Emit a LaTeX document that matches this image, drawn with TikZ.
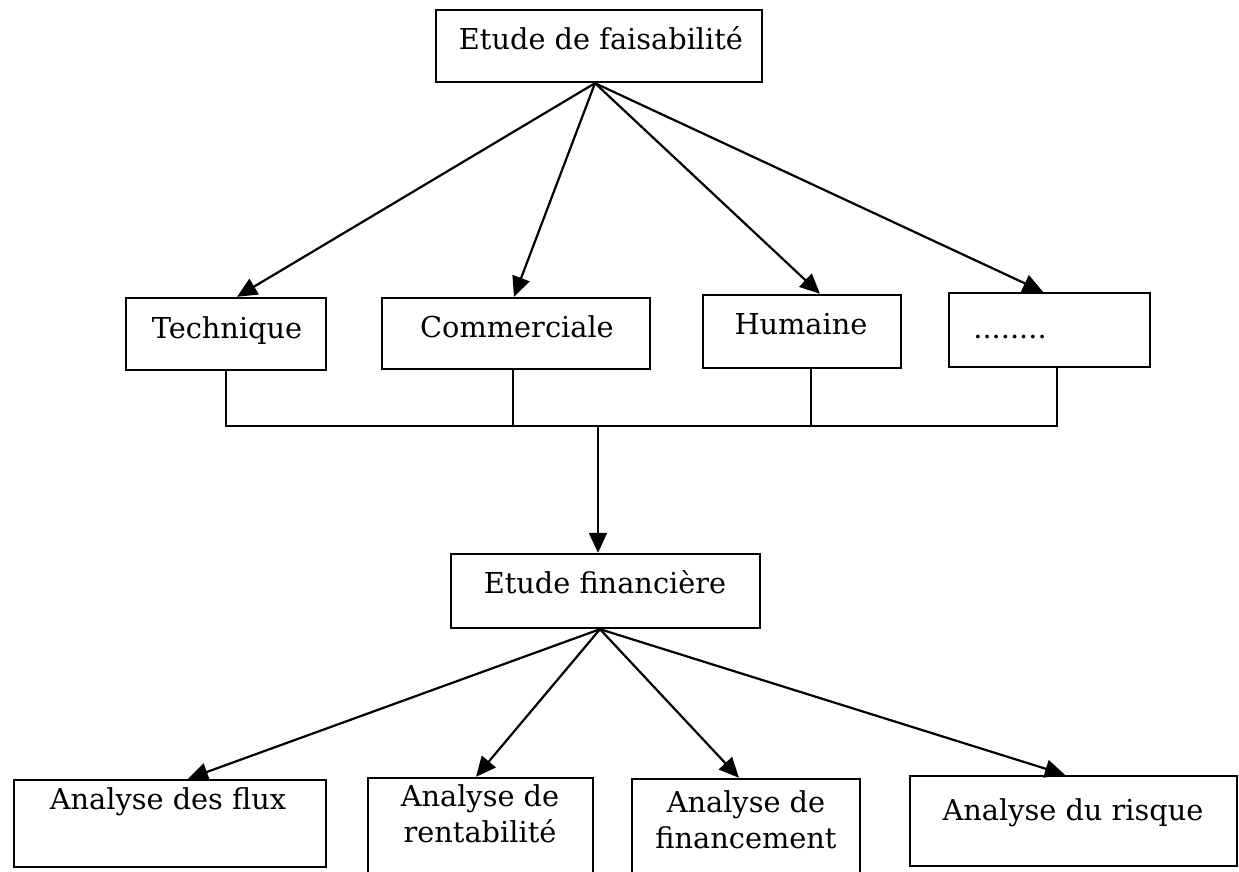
\documentclass[tikz,border=0pt]{standalone}
\usepackage{fontspec}
\setmainfont{DejaVu Serif}
\usetikzlibrary{arrows.meta}
\begin{document}
\begin{tikzpicture}[x=0.5pt,y=-0.5pt,
  box/.style={draw, line width=1.2pt, rectangle, inner sep=0pt},
  lbl/.style={anchor=base, inner sep=0pt, font=\fontsize{14.4}{18}\selectfont},
  lbltop/.style={anchor=north, inner sep=0pt, align=center, font=\fontsize{14.4}{18}\selectfont},
  link/.style={line width=1.1pt},
  arr/.style={link, -{Triangle[length=10pt,width=9pt]}}]
\useasboundingbox (0,0) rectangle (1239,872);
\clip (0,0) rectangle (1239,872);
% boxes
\node[box, minimum width=163pt, minimum height=36pt] (fais) at (599,46) {};
\node[box, minimum width=100pt, minimum height=36pt] (tech) at (226,334) {};
\node[box, minimum width=134pt, minimum height=35.5pt] (comm) at (516,333.5) {};
\node[box, minimum width=99pt, minimum height=36.5pt] (hum) at (802,331.5) {};
\node[box, minimum width=100.5pt, minimum height=37pt] (dots) at (1049.5,330) {};
\node[box, minimum width=154.5pt, minimum height=37pt] (fin) at (605.5,591) {};
\node[box, minimum width=156pt, minimum height=43.5pt] (flux) at (170,823.5) {};
\node[box, minimum width=112.5pt, minimum height=61pt] (rent) at (480.5,839) {};
\node[box, minimum width=114pt, minimum height=60.5pt] (finc) at (746,839.5) {};
\node[box, minimum width=163.5pt, minimum height=45pt] (risk) at (1073.5,821) {};
% texts
\node[lbl] (faisT) at (601,50) {Etude de faisabilité};
\node[lbl] (techT) at (227,338) {Technique};
\node[lbl] (commT) at (517,337) {Commerciale};
\node[lbl] (humT) at (801,335) {Humaine};
\node[lbl, anchor=base west] (dotsT) at (973,338) {........};
\node[lbl] (finT) at (605,593) {Etude financière};
\node[lbl] (fluxT) at (168,809) {Analyse des flux};
\node[lbltop] (rentT) at (480,784) {Analyse de\\rentabilité};
\node[lbltop] (fincT) at (746,790) {Analyse de\\financement};
\node[lbl] (riskT) at (1073,820) {Analyse du risque};
% arrows from the top box
\coordinate (faisS) at ([xshift=-2pt]fais.south);
\draw[arr] (faisS) -- ([xshift=5.5pt]tech.north);
\draw[arr] (faisS) -- ([xshift=-1pt]comm.north);
\draw[arr] (faisS) -- ([xshift=9pt]hum.north);
\draw[arr] (faisS) -- ([xshift=-3.25pt]dots.north);
% bus
\coordinate (bus) at (598,426);
\draw[link] (tech.south) |- (bus) -| ([xshift=3.75pt]dots.south);
\draw[link] ([xshift=-1.5pt]comm.south) -- ([xshift=-1.5pt]comm.south |- bus);
\draw[link] ([xshift=4.5pt]hum.south) -- ([xshift=4.5pt]hum.south |- bus);
\draw[arr] (bus) -- (bus |- fin.north);
% arrows from Etude financiere
\coordinate (finS) at ([xshift=-2.75pt]fin.south);
\draw[arr] (finS) -- ([xshift=9pt]flux.north);
\draw[arr] (finS) -- ([xshift=-2.25pt]rent.north);
\draw[arr] (finS) -- ([xshift=-3.5pt]finc.north);
\draw[arr] (finS) -- ([xshift=-4.25pt]risk.north);
\end{tikzpicture}
\end{document}
